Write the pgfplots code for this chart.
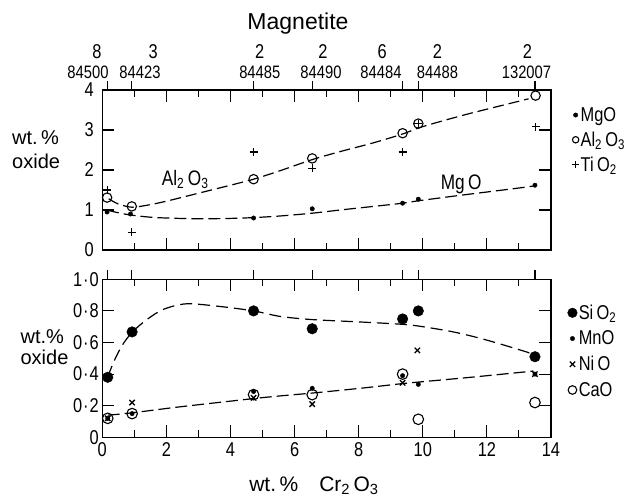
\documentclass[border=0pt]{standalone}
\usepackage{fontspec}
\setmainfont{Liberation Sans}[FakeStretch=0.82]
\newfontfamily\widefont{Liberation Sans}
\usepackage{pgfplots}
\pgfplotsset{compat=1.18}
\pgfplotsset{
  base/.style={scale only axis, width=448.7pt, xmin=0, xmax=14,
    axis line style={line width=1.3pt},
    every tick/.style={line width=1.1pt, black},
    tick align=inside, xtick pos=both, ytick pos=both,
    major tick length=12pt, minor tick length=7pt,
    /pgf/number format/assume math mode=true,
    tick label style={font=\fontsize{20}{22}\selectfont},
    minor xtick={1,3,...,13}, clip=false,
    legend cell align=left,
    legend image code/.code={\draw[##1] plot coordinates {(0pt,0pt)};},
  },
  samp/.style={scale only axis, width=448.7pt, xmin=0, xmax=14, ymin=0, ymax=1,
    axis line style={draw=none}, ytick=\empty,
    xtick={0.15,0.92,4.72,6.55,9.37,9.86,13.5}, xticklabels={},
    xtick pos=top, tick align=outside, major tick length=9pt,
    every tick/.style={line width=1.1pt, black}},
  curve/.style={black, line width=1.2pt, smooth, dash pattern=on 11pt off 5pt, no markers, forget plot},
}
\begin{document}
\begin{tikzpicture}[x=1pt,y=1pt]
% ---------------- top panel ----------------
\begin{axis}[base, at={(0pt,0pt)}, anchor=south west, height=160pt,
  ymin=0, ymax=4, ytick={0,1,2,3,4},
  xtick={2,4,...,12}, xticklabels={},
  yticklabel style={xshift=-5pt},
  legend style={at={(1.04,0.915)}, anchor=north west, draw=none, fill=none,
    font=\fontsize{20}{22}\selectfont, row sep=6pt, nodes={inner sep=1.5pt}}]
\addplot[curve] coordinates {(0.2,1.28) (0.5,1.15) (0.92,1.07) (1.4,1.12) (2,1.22) (3,1.42) (4,1.62) (4.72,1.77) (5.54,1.98) (6.55,2.26) (7.42,2.46) (8.46,2.68) (9.37,2.90) (9.86,3.05) (10.58,3.22) (11.5,3.42) (12.5,3.62) (13.3,3.78)};
\addplot[curve, dash pattern=on 12pt off 5pt] coordinates {(0.15,1.0) (0.5,0.93) (0.92,0.87) (1.5,0.82) (2,0.80) (3,0.78) (4,0.79) (4.72,0.81) (5.54,0.85) (6.55,0.92) (7.42,1.0) (8.46,1.09) (9.37,1.17) (9.86,1.23) (11,1.35) (12,1.45) (13,1.55) (13.45,1.6)};
\addplot[only marks, mark=*, mark size=2.2pt, black] coordinates {(0.15,0.95) (0.88,0.90) (4.72,0.80) (6.55,1.03) (9.37,1.17) (9.86,1.27) (13.5,1.62)};
\addlegendentry{MgO}
\addplot[only marks, mark=o, mark size=4.7pt, black, mark options={line width=1.1pt, fill=white}, legend image post style={mark size=3.2pt}] coordinates {(0.15,1.31) (0.92,1.09) (4.72,1.77) (6.55,2.29) (9.37,2.92) (9.86,3.16) (13.52,3.86)};
\addlegendentry{Al\textsubscript{2}\,O\textsubscript{3}}
\addplot[only marks, mark=+, mark size=4pt, black, mark options={line width=1.1pt}, legend image post style={mark size=3.5pt}] coordinates {(0.15,1.50) (0.92,0.44) (4.72,2.45) (6.55,2.04) (9.37,2.45) (9.86,3.16) (13.52,3.08)};
\addlegendentry{Ti\,O\textsubscript{2}}
\node[anchor=base west, font=\fontsize{21}{23}\selectfont] at (axis cs:1.75,1.625) {Al\textsubscript{2}\,O\textsubscript{3}};
\node[anchor=base west, font=\fontsize{21}{23}\selectfont] at (axis cs:10.45,1.52) {Mg\,O};
\end{axis}
\begin{axis}[samp, at={(0pt,0pt)}, anchor=south west, height=160pt]
\end{axis}
% ---------------- bottom panel ----------------
\begin{axis}[base, at={(0pt,-187.3pt)}, anchor=south west, height=158pt,
  ymin=0, ymax=1, ytick={0,0.2,0.4,0.6,0.8,1},
  yticklabels={0,0\kern1pt·\kern1pt2,0\kern1pt·\kern1pt4,0\kern1pt·\kern1pt6,0\kern1pt·\kern1pt8,1\kern1pt·\kern1pt0},
  xtick={0,2,...,14}, xticklabel style={yshift=-2pt},
  legend style={at={(1.03,0.862)}, anchor=north west, draw=none, fill=none,
    font=\fontsize{20}{22}\selectfont, row sep=7pt, nodes={inner sep=1.5pt}}]
\addplot[curve, dash pattern=on 12pt off 6pt] coordinates {(0.17,0.38) (0.34,0.47) (0.6,0.575) (0.93,0.665) (1.39,0.745) (1.91,0.81) (2.63,0.845) (3.67,0.828) (4.72,0.80) (5.55,0.765) (6.55,0.745) (8.04,0.73) (9.37,0.715) (10,0.70) (11,0.665) (12,0.615) (13.24,0.54) (13.4,0.525)};
\addplot[curve, dash pattern=on 12pt off 5pt] coordinates {(0.17,0.14) (0.93,0.155) (2.43,0.193) (4.72,0.245) (5.55,0.262) (6.55,0.28) (8.04,0.31) (9.37,0.34) (10,0.352) (11.5,0.38) (13.24,0.415) (13.45,0.42)};
\addplot[only marks, mark=*, mark size=5.3pt, black, legend image post style={mark size=4.8pt}] coordinates {(0.17,0.38) (0.93,0.667) (4.72,0.80) (6.55,0.687) (9.37,0.749) (9.86,0.80) (13.5,0.51)};
\addlegendentry{Si\,O\textsubscript{2}}
\addplot[only marks, mark=*, mark size=2.2pt, black] coordinates {(0.17,0.12) (0.93,0.15) (4.72,0.29) (6.55,0.31) (9.37,0.39) (9.86,0.335) (13.5,0.40)};
\addlegendentry{MnO}
\addplot[only marks, mark=x, mark size=3.8pt, black, mark options={line width=1.3pt}] coordinates {(0.17,0.12) (0.93,0.22) (4.72,0.25) (6.55,0.21) (9.37,0.345) (9.83,0.55) (13.5,0.40)};
\addlegendentry{Ni\,O}
\addplot[only marks, mark=o, mark size=5.3pt, black, mark options={line width=1.1pt}, legend image post style={mark size=4.3pt}] coordinates {(0.17,0.12) (0.93,0.15) (4.72,0.27) (6.55,0.27) (9.37,0.40) (9.86,0.114) (13.5,0.22)};
\addlegendentry{CaO}
\end{axis}
\begin{axis}[samp, at={(0pt,-187.3pt)}, anchor=south west, height=158pt]
\end{axis}
% ---------------- texts ----------------
\node[font=\widefont\fontsize{23}{25}\selectfont] at (195.7,226.4) {Magnetite};
\begin{scope}[every node/.style={font=\fontsize{20}{22}\selectfont}]
\node at (-5.3,198) {8};
\node at (51,198) {3};
\node at (157.3,198) {2};
\node at (220.7,198) {2};
\node at (280,198) {6};
\node at (335.1,198) {2};
\node at (425.1,198) {2};
\end{scope}
\begin{scope}[every node/.style={font=\fontsize{18}{20}\selectfont}]
\node at (-14.3,178) {84500};
\node at (37.7,178) {84423};
\node at (157.5,178) {84485};
\node at (218.7,178) {84490};
\node at (278.7,178) {84484};
\node at (335.2,178) {84488};
\node at (424.2,178) {132007};
\end{scope}
\node[anchor=west, align=left, font=\widefont\fontsize{20}{24}\selectfont, inner sep=0pt] at (-90.3,100.5) {wt.\,\%\\oxide};
\node[anchor=west, align=left, font=\widefont\fontsize{20}{21}\selectfont, inner sep=0pt] at (-81.9,-97.5) {wt.\%\\oxide};
\node[font=\widefont\fontsize{21}{23}\selectfont] at (211.7,-236) {wt.\,\%\quad Cr\textsubscript{2}\,O\textsubscript{3}};
\pgfresetboundingbox
\path[use as bounding box] (-102.3,-249) rectangle (538.7,250);
\end{tikzpicture}
\end{document}
